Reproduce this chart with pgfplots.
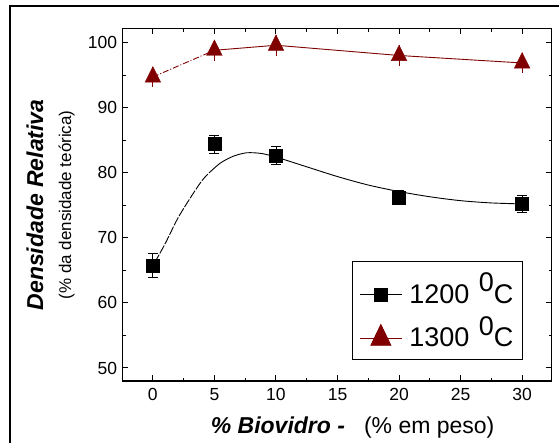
\documentclass[border=0pt]{standalone}
\usepackage{fontspec}
\setmainfont{Liberation Sans}
\setsansfont{Liberation Sans}
\usepackage{pgfplots}
\pgfplotsset{compat=1.18}
\definecolor{dred}{RGB}{128,0,0}
\newcommand{\legtxt}[1]{\fontsize{27}{29}\selectfont\hspace{5pt}#1\hspace{9.5pt}\raisebox{11.7pt}{0}C\hspace{8pt}}

\begin{document}
\begin{tikzpicture}
\path[use as bounding box] (0,0) rectangle (559pt,443pt);
\draw[line width=1.7pt] (10pt,-5pt) -- (10pt,437.3pt) -- (570pt,437.3pt);
\begin{axis}[
  at={(122.7pt,62pt)}, anchor=south west,
  scale only axis, width=429pt, height=352.2pt,
  xmin=-2.45, xmax=32.4, ymin=48, ymax=102.1,
  xtick={0,5,10,15,20,25,30}, ytick={50,60,...,100},
  minor x tick num=1, minor y tick num=1,
  tick align=inside, major tick length=5.5pt, minor tick length=3pt,
  axis line style={line width=1.2pt},
  every tick/.style={black, line width=1pt},
  tick label style={font=\fontsize{17.5}{20}\selectfont},
  xticklabel style={yshift=-3.7pt},
  yticklabel style={xshift=-2pt},
  /pgf/number format/assume math mode=true,
  xlabel={\textbf{\textit{\% Biovidro -}}\hspace{19pt}(\% em peso)},
  xlabel style={at={(axis description cs:0.536,-0.1485)}, anchor=base, font=\fontsize{23}{26}\selectfont},
  ylabel={{\bfseries\itshape Densidade Relativa}\\[1pt]{\fontsize{17}{20}\selectfont (\% da densidade teórica)}},
  ylabel style={at={(axis description cs:-0.168,0.5)}, anchor=center, align=center, font=\fontsize{23}{27}\selectfont},
  legend style={at={(axis description cs:0.535,0.341)}, anchor=north west, draw=black, line width=1pt,
    inner xsep=6.7pt, inner ysep=9.5pt, row sep=7.4pt, cells={anchor=base west}},
  legend image code/.code={\draw[mark repeat=2,mark phase=2,#1] plot coordinates {(0pt,8.5pt) (21pt,8.5pt) (42pt,8.5pt)};},
]
% 1200 fitted curve
\addplot[black, line width=0.9pt, smooth, dash pattern=on 9pt off 1.5pt, forget plot] coordinates {
(0.15,66.2)(1,69.1)(2,72.9)(3,76.0)(4,78.8)(4.7,80.2)};
\addplot[black, line width=0.9pt, smooth, forget plot] coordinates {
(4.7,80.2)(5.5,81.5)(6.5,82.5)(7.6,83.05)(8.8,82.95)(10,82.4)(12.5,80.9)(15,79.4)(17.5,78.1)(20,77.1)(22.5,76.3)(25,75.7)(27.5,75.35)(30,75.2)};
% 1300 lines
\addplot[dred, line width=0.9pt, dash pattern=on 6pt off 2pt on 1pt off 2pt, forget plot] coordinates {(0,94.7)(5,98.8)};
\addplot[dred, line width=0.9pt, forget plot] coordinates {(5,98.8)(10,99.57)(20,98.0)(30,96.85)};
% 1200 points
\addplot[only marks, mark=square*, mark size=6.5pt, black, forget plot,
  error bars/.cd, y dir=both, y explicit,
  error mark options={rotate=90, mark size=5pt, line width=0.8pt, black},
  error bar style={line width=0.8pt, black}]
  coordinates {(0,65.75) +- (0,1.9) (5,84.4) +- (0,1.4) (10,82.6) +- (0,1.4) (20,76.2) +- (0,1.15) (30,75.2) +- (0,1.28)};
% 1300 points
\addplot[only marks, mark=triangle*, mark size=9pt, mark options={yscale=1.15}, dred, forget plot,
  error bars/.cd, y dir=both, y explicit, error mark=none,
  error bar style={line width=0.8pt, dred}]
  coordinates {(0,94.7) +- (0,1.6) (5,98.8) +- (0,1.6) (10,99.57) +- (0,1.6) (20,98.0) +- (0,1.6) (30,96.85) +- (0,1.6)};
\addlegendimage{black, line width=0.9pt, mark=square*, mark size=6.2pt}
\addlegendentry{\legtxt{1200}}
\addlegendimage{dred, line width=0.9pt, mark=triangle*, mark size=11.5pt, mark options={yscale=1.2}}
\addlegendentry{\legtxt{1300}}
\end{axis}
\end{tikzpicture}
\end{document}
